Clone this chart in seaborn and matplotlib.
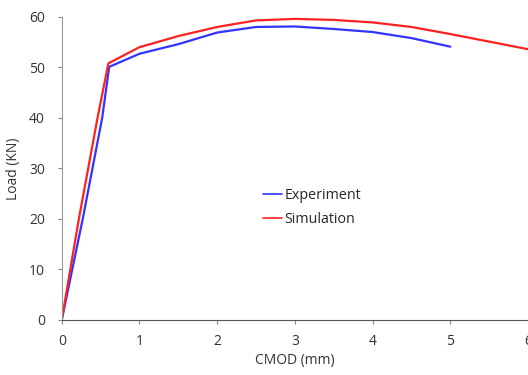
import matplotlib
matplotlib.use("Agg")
import matplotlib.pyplot as plt
import seaborn as sns
import pandas as pd

exp_x = [0.0, 0.27, 0.52, 0.61, 1.0, 1.5, 2.0, 2.5, 3.0, 3.5, 4.0, 4.5, 5.0]
exp_y = [0.0, 20.0, 40.0, 50.1, 52.7, 54.6, 56.9, 58.0, 58.1, 57.6, 57.0, 55.8, 54.1]
sim_x = [0.0, 0.22, 0.46, 0.60, 1.0, 1.5, 2.0, 2.5, 3.0, 3.5, 4.0, 4.5, 5.0, 5.5, 6.0]
sim_y = [0.0, 20.0, 40.0, 50.8, 54.0, 56.2, 58.0, 59.3, 59.6, 59.4, 58.9, 58.0, 56.6, 55.1, 53.6]

df = pd.concat([
    pd.DataFrame({"x": exp_x, "y": exp_y, "s": "Experiment"}),
    pd.DataFrame({"x": sim_x, "y": sim_y, "s": "Simulation"}),
])

sns.set_style("white")
plt.rcParams['font.family'] = ['Open Sans', 'DejaVu Sans']

fig = plt.figure(figsize=(5.28, 3.75), dpi=100)
ax = fig.add_axes([0.117, 0.147, 0.883, 0.808])
sns.lineplot(data=df, x="x", y="y", hue="s", sort=False, ax=ax,
             palette={"Experiment": "#3333ff", "Simulation": "#ff2020"},
             linewidth=1.6, estimator=None)
ax.set_xlim(0, 6)
ax.set_ylim(0, 60)
ax.set_xticks(range(0, 7))
ax.set_yticks(range(0, 61, 10))
for s in ["top", "right"]:
    ax.spines[s].set_visible(False)
ax.spines["left"].set_color("#999999")
ax.spines["bottom"].set_color("#555555")
ax.tick_params(axis="both", which="both", direction="out", length=3, width=0.8,
               colors="#888888", labelcolor="#333333", labelsize=10,
               left=True, bottom=True)
ax.tick_params(axis="y", pad=9)
ax.tick_params(axis="x", pad=7)
ax.set_xlabel("CMOD (mm)", fontsize=10, color="#333333", labelpad=3)
ax.set_ylabel("Load (KN)", fontsize=10, color="#333333", labelpad=6)
leg = ax.legend(loc="center left", bbox_to_anchor=(0.405, 0.37), frameon=False,
                handlelength=1.3, handletextpad=0.15, fontsize=10.3, labelspacing=0.6)
for line in leg.get_lines():
    line.set_linewidth(1.2)
fig.savefig("out.png", dpi=100)
